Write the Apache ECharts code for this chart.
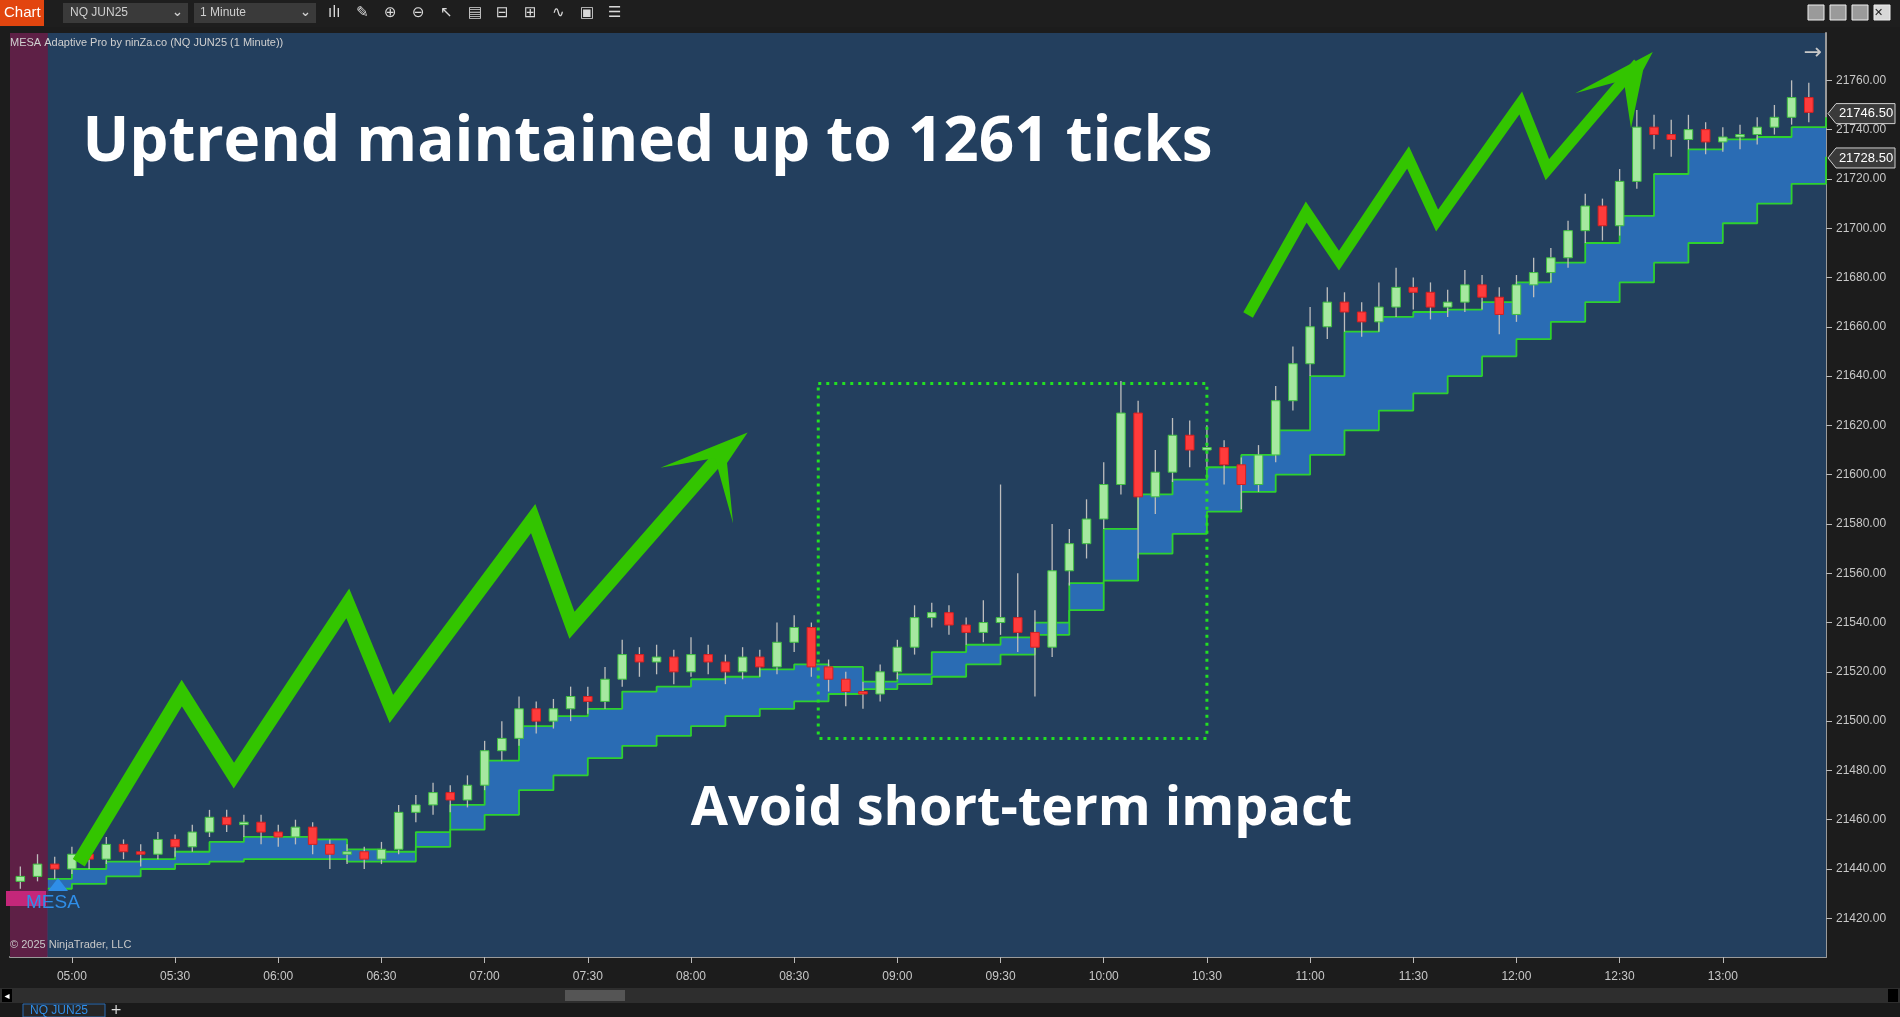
<!DOCTYPE html>
<html><head><meta charset="utf-8">
<script src="https://cdn.jsdelivr.net/npm/echarts@6/dist/echarts.min.js"></script>
<style>html,body{margin:0;padding:0;background:#1c1c1c;}#c{width:1900px;height:1017px;}</style>
</head><body><div id="c"></div>
<script>
// ---- data ----
const barTimes = []; // minutes from midnight, 5-minute bars 04:45..13:25
for (let t = 285; t <= 805; t += 5) barTimes.push(t);
const ohlc = [ // [open, close, low, high]
[21435,21437,21432,21441],[21437,21442,21435,21446],[21442,21440,21436,21445],[21440,21446,21438,21449],
[21446,21444,21440,21448],[21444,21450,21442,21453],[21450,21447,21444,21452],[21447,21446,21441,21450],
[21446,21452,21444,21455],[21452,21449,21445,21454],[21449,21455,21447,21458],[21455,21461,21453,21464],
[21461,21458,21455,21464],[21458,21459,21453,21462],[21459,21455,21450,21462],[21455,21453,21449,21458],
[21453,21457,21450,21460],[21457,21450,21446,21459],[21450,21446,21440,21452],[21446,21447,21442,21450],
[21447,21444,21440,21449],[21444,21448,21442,21451],[21448,21463,21446,21466],[21463,21466,21459,21470],
[21466,21471,21462,21475],[21471,21468,21463,21474],[21468,21474,21465,21478],[21474,21488,21472,21492],
[21488,21493,21484,21500],[21493,21505,21490,21510],[21505,21500,21495,21508],[21500,21505,21497,21509],
[21505,21510,21500,21514],[21510,21508,21503,21514],[21508,21517,21505,21522],[21517,21527,21514,21533],
[21527,21524,21518,21530],[21524,21526,21519,21531],[21526,21520,21515,21529],[21520,21527,21518,21534],
[21527,21524,21519,21531],[21524,21520,21515,21527],[21520,21526,21517,21530],[21526,21522,21518,21529],
[21522,21532,21519,21540],[21532,21538,21528,21543],[21538,21522,21518,21540],[21522,21517,21512,21525],
[21517,21512,21506,21520],[21512,21511,21505,21516],[21511,21520,21508,21523],[21520,21530,21517,21533],
[21530,21542,21527,21547],[21542,21544,21538,21548],[21544,21539,21535,21547],[21539,21536,21531,21542],
[21536,21540,21532,21549],[21540,21542,21535,21596],[21542,21536,21528,21560],[21536,21530,21510,21545],
[21530,21561,21526,21580],[21561,21572,21555,21578],[21572,21582,21566,21590],[21582,21596,21578,21605],
[21596,21625,21592,21638],[21625,21591,21566,21630],[21591,21601,21584,21610],[21601,21616,21597,21623],
[21616,21610,21603,21622],[21610,21611,21602,21620],[21611,21604,21596,21614],[21604,21596,21586,21607],
[21596,21608,21593,21612],[21608,21630,21605,21636],[21630,21645,21626,21652],[21645,21660,21640,21668],
[21660,21670,21655,21676],[21670,21666,21658,21674],[21666,21662,21656,21670],[21662,21668,21658,21678],
[21668,21676,21664,21684],[21676,21674,21667,21680],[21674,21668,21663,21678],[21668,21670,21664,21675],
[21670,21677,21666,21683],[21677,21672,21667,21681],[21672,21665,21657,21676],[21665,21677,21662,21681],
[21677,21682,21672,21688],[21682,21688,21678,21692],[21688,21699,21684,21703],[21699,21709,21694,21714],
[21709,21701,21695,21712],[21701,21719,21697,21724],[21719,21741,21716,21748],[21741,21738,21732,21746],
[21738,21736,21729,21744],[21736,21740,21732,21746],[21740,21735,21730,21743],[21735,21737,21731,21741],
[21737,21738,21732,21742],[21738,21741,21734,21745],[21741,21745,21738,21750],[21745,21753,21742,21760],
[21753,21747,21743,21759]
];
const bandTimes = [293,300,310,320,330,340,350,360,370,380,390,400,410,420,430,440,450,460,470,480,490,500,510,520,530,540,550,560,570,580,590,600,610,620,630,640,650,660,670,680,690,700,710,720,730,740,750,760,770,780,790,800,810];
const bandUpper = [21436,21440,21443,21444,21447,21451,21453,21453,21452,21448,21447,21455,21466,21484,21498,21502,21505,21512,21514,21517,21518,21521,21523,21522,21516,21519,21528,21531,21534,21540,21556,21578,21592,21598,21603,21608,21618,21640,21658,21664,21666,21667,21670,21678,21686,21694,21705,21722,21732,21736,21737,21741,21745];
const bandLower = [21432,21434,21437,21440,21442,21443,21444,21444,21444,21443,21443,21449,21456,21462,21472,21478,21485,21490,21494,21498,21502,21505,21508,21511,21513,21515,21518,21523,21527,21535,21545,21557,21568,21576,21585,21593,21600,21608,21618,21626,21633,21640,21648,21655,21662,21670,21678,21686,21694,21702,21710,21718,21729];
const xTickValues = [300,330,360,390,420,450,480,510,540,570,600,630,660,690,720,750,780];
const yTickValues = [21420,21440,21460,21480,21500,21520,21540,21560,21580,21600,21620,21640,21660,21680,21700,21720,21740,21760];
const priceTags = [21746.50, 21728.50];
const boxRange = {t0: 517, t1: 630, p0: 21493, p1: 21637};

// ---- chart ----
const chart = echarts.init(document.getElementById('c'));
const hhmm = v => String(Math.floor(v/60)).padStart(2,'0') + ':' + String(v%60).padStart(2,'0');
const candleData = barTimes.map((t,i)=>[t, ...ohlc[i]]);

chart.setOption({
  animation:false,
  backgroundColor:'#1c1c1c',
  grid:{left:10,right:74,top:33,bottom:60,show:true,backgroundColor:'#233f5e',borderWidth:0},
  xAxis:{type:'value',min:282,max:810,splitLine:{show:false},
    axisLine:{show:true,lineStyle:{color:'#9a9a9a',width:2}},
    axisTick:{show:true,customValues:xTickValues,length:6,lineStyle:{color:'#bbb'}},
    axisLabel:{customValues:xTickValues,formatter:v=>hhmm(v),color:'#c8c8c8',fontSize:12,margin:14,fontFamily:'Liberation Sans'}},
  yAxis:{type:'value',position:'right',min:21404.3,max:21779.2,splitLine:{show:false},
    axisLine:{show:true,lineStyle:{color:'#9a9a9a',width:2}},
    axisTick:{show:true,customValues:yTickValues,length:6,inside:false,lineStyle:{color:'#bbb'}},
    axisLabel:{customValues:yTickValues,formatter:v=>v.toFixed(2),color:'#c8c8c8',fontSize:12,margin:10,fontFamily:'Liberation Sans'}},
  series:[
    {type:'line',step:'end',symbol:'none',data:bandTimes.map((t,i)=>[t,bandUpper[i]]),
     lineStyle:{color:'#2ed12e',width:1.8},areaStyle:{color:'#2a6cb4',opacity:1,origin:'start'},z:1,
     markArea:{silent:true,itemStyle:{color:'#5e2046'},data:[[{xAxis:282},{xAxis:293}]]}},
    {type:'line',step:'end',symbol:'none',data:bandTimes.map((t,i)=>[t,bandLower[i]]),
     lineStyle:{color:'#2ed12e',width:1.8},areaStyle:{color:'#233f5e',opacity:1,origin:'start'},z:2},
    {type:'custom',z:5,data:candleData,encode:{x:0,y:[1,2,3,4]},
     renderItem:(params,api)=>{
       const t=api.value(0),o=api.value(1),c=api.value(2),l=api.value(3),h=api.value(4);
       const pO=api.coord([t,o]),pC=api.coord([t,c]),pL=api.coord([t,l]),pH=api.coord([t,h]);
       const w=api.size([5,0])[0]*0.5;
       const up=c>=o;
       const top=Math.min(pO[1],pC[1]),ht=Math.max(Math.abs(pO[1]-pC[1]),1.5);
       return {type:'group',children:[
         {type:'line',shape:{x1:pH[0],y1:pH[1],x2:pL[0],y2:pL[1]},style:{stroke:'#bdbdbd',lineWidth:1.3}},
         {type:'rect',shape:{x:pO[0]-w/2,y:top,width:w,height:ht},
          style:{fill:up?'#a6e8a0':'#ff3b3b',stroke:up?'#3fbf3f':'#d62020',lineWidth:1}}
       ]};
     }}
  ]
});

// ---- annotations & chrome ----
const S = 1900/1568;
const P = (x,y)=>[x*S,y*S];
const tags = priceTags.map(p=>{
  const y = chart.convertToPixel({yAxisIndex:0}, p);
  return {type:'group',children:[
    {type:'polygon',shape:{points:[[1828,y],[1836,y-10],[1895,y-10],[1895,y+10],[1836,y+10]]},style:{fill:'#3a3a3a',stroke:'#cfcfcf',lineWidth:1}},
    {type:'text',style:{x:1866,y:y,text:p.toFixed(2),fill:'#ffffff',font:'13px Liberation Sans',align:'center',verticalAlign:'middle'}}
  ]};
});
const b0 = chart.convertToPixel({gridIndex:0},[boxRange.t0,boxRange.p1]);
const b1 = chart.convertToPixel({gridIndex:0},[boxRange.t1,boxRange.p0]);
const zig1 = [P(65,712),P(150,572),P(193,640),P(287,498),P(323,585),P(440,428),P(472,516),P(598,372)];
const zig2 = [P(1030,260),P(1078,175),P(1105,215),P(1162,130),P(1186,182),P(1255,85),P(1277,140),P(1352,52)];
const icons = ['ılı','✎','⊕','⊖','↖','▤','⊟','⊞','∿','▣','☰'];
chart.setOption({graphic:[
  // toolbar
  {type:'rect',shape:{x:0,y:0,width:1900,height:27},style:{fill:'#1e1e1e'},z:10},
  {type:'rect',shape:{x:0,y:0,width:44,height:26},style:{fill:'#e2450f'},z:11},
  {type:'text',style:{x:4,y:13,text:'Chart',fill:'#fff',font:'15px Liberation Sans',verticalAlign:'middle'},z:12},
  {type:'rect',shape:{x:63,y:3,width:125,height:20},style:{fill:'#3a3a3a'},z:11},
  {type:'text',style:{x:70,y:13,text:'NQ JUN25',fill:'#cfcfcf',font:'12px Liberation Sans',verticalAlign:'middle'},z:12},
  {type:'text',style:{x:172,y:13,text:'⌄',fill:'#cfcfcf',font:'bold 13px DejaVu Sans',verticalAlign:'middle'},z:12},
  {type:'rect',shape:{x:194,y:3,width:122,height:20},style:{fill:'#3a3a3a'},z:11},
  {type:'text',style:{x:200,y:13,text:'1 Minute',fill:'#cfcfcf',font:'12px Liberation Sans',verticalAlign:'middle'},z:12},
  {type:'text',style:{x:300,y:13,text:'⌄',fill:'#cfcfcf',font:'bold 13px DejaVu Sans',verticalAlign:'middle'},z:12},
  ...icons.map((s,i)=>({type:'text',style:{x:328+i*28,y:13,text:s,fill:'#d8d8d8',font:'15px DejaVu Sans',verticalAlign:'middle'},z:12})),
  ...[0,1,2,3].map(i=>({type:'rect',shape:{x:1808+i*22,y:5,width:16,height:15},style:{fill:i==3?'#d8d8d8':'#9a9a9a',stroke:'#eee',lineWidth:1},z:12})),
  {type:'text',style:{x:1874,y:13,text:'✕',fill:'#222',font:'bold 11px DejaVu Sans',verticalAlign:'middle'},z:13},
  // title texts
  {type:'text',style:{x:10,y:43,text:'MESA Adaptive Pro by ninZa.co (NQ JUN25 (1 Minute))',fill:'#d0d0d0',font:'11px Liberation Sans',verticalAlign:'middle'},z:12},
  {type:'text',style:{x:1813,y:53,text:'→',fill:'#c8c8c8',font:'22px DejaVu Sans',align:'center',verticalAlign:'middle'},z:12},
  {type:'text',style:{x:10,y:945,text:'© 2025 NinjaTrader, LLC',fill:'#c8c8c8',font:'11px Liberation Sans',verticalAlign:'middle'},z:12},
  // MESA label
  {type:'rect',shape:{x:6,y:891,width:40,height:15},style:{fill:'#c4277a'},z:12},
  {type:'polygon',shape:{points:[[48,891],[58,878],[68,891]]},style:{fill:'#2f8ee8'},z:12},
  {type:'text',style:{x:26,y:903,text:'MESA',fill:'#2f8ee8',font:'19px Liberation Sans',verticalAlign:'middle'},z:13},
  // dotted box
  {type:'rect',shape:{x:b0[0],y:b0[1],width:b1[0]-b0[0],height:b1[1]-b0[1]},style:{fill:null,stroke:'#22e022',lineWidth:3,lineDash:[3,5]},z:9},
  // zigzag arrows
  {type:'polyline',shape:{points:zig1},style:{stroke:'#33c500',lineWidth:14,lineJoin:'miter',miterLimit:3,fill:null},z:8},
  {type:'polygon',shape:{points:[P(617,357),P(545,386),P(590,378),P(605,432),P(600,382)]},style:{fill:'#33c500'},z:8},
  {type:'polyline',shape:{points:zig2},style:{stroke:'#33c500',lineWidth:11,lineJoin:'miter',miterLimit:3,fill:null},z:8},
  {type:'polygon',shape:{points:[P(1364,43),P(1300,77),P(1340,66),P(1346,106),P(1356,58)]},style:{fill:'#33c500'},z:8},
  // big texts
  {type:'text',style:{x:P(68,0)[0],y:P(0,118)[1],text:'Uptrend maintained up to 1261 ticks',fill:'#ffffff',font:'bold 62px Open Sans',verticalAlign:'middle'},z:12},
  {type:'text',style:{x:P(570,0)[0],y:P(0,668)[1],text:'Avoid short-term impact',fill:'#ffffff',font:'bold 54px Open Sans',verticalAlign:'middle'},z:12},
  // bottom chrome
  {type:'rect',shape:{x:0,y:988,width:1900,height:15},style:{fill:'#2e2e2e'},z:10},
  {type:'rect',shape:{x:2,y:989,width:10,height:13},style:{fill:'#000'},z:11},
  {type:'text',style:{x:7,y:996,text:'◂',fill:'#fff',font:'10px DejaVu Sans',align:'center',verticalAlign:'middle'},z:12},
  {type:'rect',shape:{x:565,y:990,width:60,height:11},style:{fill:'#555'},z:11},
  {type:'rect',shape:{x:1888,y:989,width:10,height:13},style:{fill:'#000'},z:11},
  {type:'rect',shape:{x:0,y:1003,width:1900,height:14},style:{fill:'#1a1a1a'},z:10},
  {type:'rect',shape:{x:23,y:1004,width:82,height:13},style:{fill:'#262626',stroke:'#2a6cb4',lineWidth:1},z:11},
  {type:'text',style:{x:30,y:1011,text:'NQ JUN25',fill:'#2f8ee8',font:'12px Liberation Sans',verticalAlign:'middle'},z:12},
  {type:'text',style:{x:116,y:1010,text:'+',fill:'#ddd',font:'14px DejaVu Sans',align:'center',verticalAlign:'middle'},z:12},
  ...tags
]});
</script></body></html>
